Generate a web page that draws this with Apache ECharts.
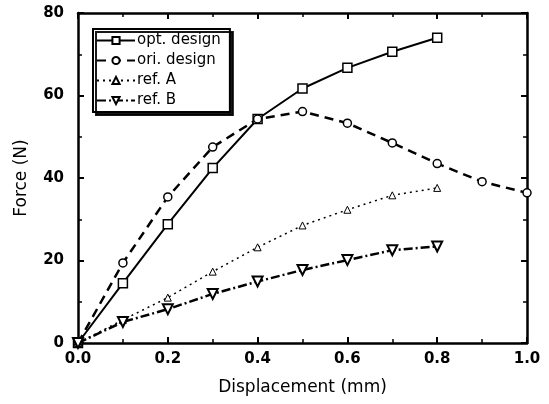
<!DOCTYPE html>
<html>
<head>
<meta charset="utf-8">
<script src="https://cdn.jsdelivr.net/npm/echarts@6/dist/echarts.min.js"></script>
<style>
html, body { margin: 0; padding: 0; background: #fff; }
#chart { width: 549px; height: 404px; }
</style>
</head>
<body>
<div id="chart"></div>
<script>
// displacement (mm)
const dispShort = [0, 0.1, 0.2, 0.3, 0.4, 0.5, 0.6, 0.7, 0.8];
const dispLong = [0, 0.1, 0.2, 0.3, 0.4, 0.5, 0.6, 0.7, 0.8, 0.9, 1.0];

// force (N)
const optDesign = [0, 14.5, 28.8, 42.4, 54.3, 61.7, 66.7, 70.6, 74.0];
const oriDesign = [0, 19.4, 35.4, 47.5, 54.3, 56.1, 53.3, 48.5, 43.5, 39.1, 36.4];
const refA = [0, 5.6, 11.0, 17.3, 23.2, 28.5, 32.3, 35.8, 37.6];
const refB = [0, 5.1, 8.2, 11.9, 14.9, 17.7, 20.1, 22.5, 23.4];

const seriesNames = ['opt. design', 'ori. design', 'ref. A', 'ref. B'];

const pair = (xs, ys) => xs.map((x, i) => [x, ys[i]]);

const chart = echarts.init(document.getElementById('chart'));

const FONT = 'DejaVu Sans';
const tickCommon = () => ({
    axisLine: { show: true, onZero: false, lineStyle: { color: '#000', width: 2.5 } },
    axisTick: { show: true, inside: true, length: 6, lineStyle: { color: '#000', width: 2 } },
    minorTick: { show: true, splitNumber: 2, length: 4, lineStyle: { color: '#000', width: 1.5 } },
    splitLine: { show: false }
});

const option = {
    backgroundColor: '#fff',
    animation: false,
    grid: { left: 78, right: 22, top: 13, bottom: 61 },
    legend: {
        orient: 'vertical',
        left: 93,
        top: 29,
        data: seriesNames,
        itemWidth: 38,
        itemHeight: 9,
        itemGap: 5,
        padding: [4, 9, 4, 3],
        borderColor: '#000',
        borderWidth: 2,
        backgroundColor: '#fff',
        shadowColor: 'rgba(0,0,0,0.9)',
        shadowBlur: 0,
        shadowOffsetX: 3,
        shadowOffsetY: 3,
        textStyle: { fontFamily: FONT, fontSize: 15, color: '#000', padding: [0, 0, 0, -3] }
    },
    xAxis: [
        Object.assign({
            type: 'value', min: 0, max: 1, interval: 0.2,
            name: 'Displacement (mm)', nameLocation: 'middle', nameGap: 36,
            nameTextStyle: { fontFamily: FONT, fontSize: 17, color: '#000' },
            axisLabel: {
                fontFamily: FONT, fontSize: 15, fontWeight: 'bold', color: '#000', margin: 9,
                formatter: v => v.toFixed(1)
            }
        }, tickCommon()),
        Object.assign({
            type: 'value', min: 0, max: 1, interval: 0.2, position: 'top',
            axisLabel: { show: false }
        }, tickCommon())
    ],
    yAxis: [
        Object.assign({
            type: 'value', min: 0, max: 80, interval: 20,
            name: 'Force (N)', nameLocation: 'middle', nameGap: 48,
            nameTextStyle: { fontFamily: FONT, fontSize: 17, color: '#000' },
            axisLabel: { fontFamily: FONT, fontSize: 15, fontWeight: 'bold', color: '#000', margin: 14 }
        }, tickCommon()),
        Object.assign({
            type: 'value', min: 0, max: 80, interval: 20, position: 'right',
            axisLabel: { show: false }
        }, tickCommon())
    ],
    series: [
        {
            name: seriesNames[0], type: 'line', data: pair(dispShort, optDesign),
            symbol: 'rect', symbolSize: 9,
            lineStyle: { color: '#000', width: 2, type: 'solid' },
            itemStyle: { color: '#fff', borderColor: '#000', borderWidth: 1.5 }
        },
        {
            name: seriesNames[1], type: 'line', data: pair(dispLong, oriDesign),
            symbol: 'circle', symbolSize: 8,
            lineStyle: { color: '#000', width: 2.5, type: [9, 6] },
            itemStyle: { color: '#fff', borderColor: '#000', borderWidth: 1.5 }
        },
        {
            name: seriesNames[2], type: 'line', data: pair(dispShort, refA),
            symbol: 'triangle', symbolSize: 7,
            lineStyle: { color: '#000', width: 1.5, type: [2, 4] },
            itemStyle: { color: '#fff', borderColor: '#000', borderWidth: 1 }
        },
        {
            name: seriesNames[3], type: 'line', data: pair(dispShort, refB),
            symbol: 'triangle', symbolRotate: 180, symbolSize: 10,
            lineStyle: { color: '#000', width: 2.5, type: [9, 3, 2, 3] },
            itemStyle: { color: '#fff', borderColor: '#000', borderWidth: 2 }
        }
    ]
};

chart.setOption(option);
</script>
</body>
</html>
